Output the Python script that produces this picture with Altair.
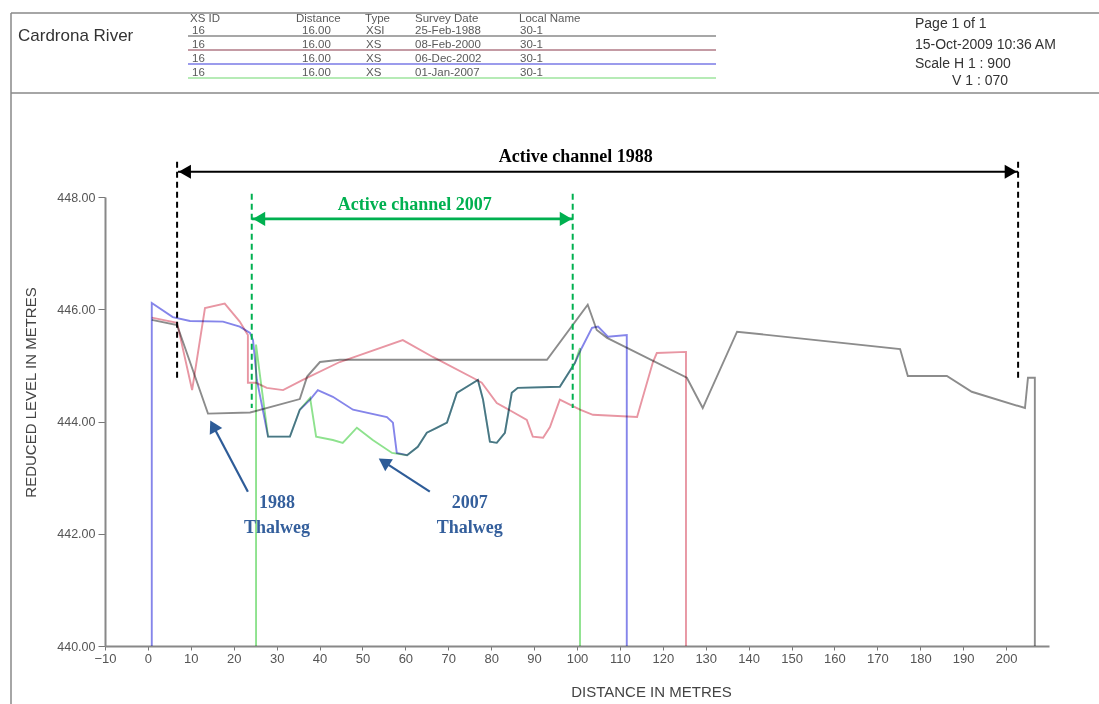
import altair as alt
import pandas as pd

# ---------------- data ----------------
survey_names = ["1988", "2000", "2002", "2007"]
survey_colors = ["#8c8c8c", "#e896a3", "#8585ea", "#8ee28e"]

dist_1988 = [0.9, 6.8, 14.0, 23.8, 35.4, 37.1, 40.1, 44.7, 93.0, 102.5, 104.6, 107.0, 125.6, 129.3,
             137.3, 175.3, 177.1, 186.2, 192.0, 204.4, 205.1, 206.7, 206.7]
level_1988 = [445.81, 445.72, 444.14, 444.16, 444.40, 444.80, 445.06, 445.10, 445.10, 446.08, 445.63,
              445.49, 444.78, 444.24, 445.60, 445.29, 444.81, 444.81, 444.53, 444.24, 444.78, 444.78, 440.00]

dist_2000 = [0.9, 6.8, 10.3, 13.3, 17.9, 21.4, 23.3, 23.3, 25.2, 27.7, 31.5, 36.1, 44.7, 48.2, 59.4,
             66.4, 76.7, 77.8, 81.3, 88.3, 89.7, 92.1, 93.7, 96.0, 100.7, 103.7, 114.0, 117.7, 118.6,
             125.4, 125.4]
level_2000 = [445.85, 445.76, 444.56, 446.02, 446.10, 445.78, 445.54, 444.69, 444.69, 444.60, 444.56,
              444.74, 445.06, 445.15, 445.45, 445.15, 444.74, 444.69, 444.33, 444.03, 443.73, 443.71,
              443.90, 444.39, 444.21, 444.12, 444.08, 445.06, 445.22, 445.24, 440.00]

dist_2002 = [0.9, 0.9, 5.8, 9.8, 17.5, 21.4, 23.8, 24.5, 25.4, 28.0, 33.1, 35.4, 37.8, 39.6, 43.1,
             47.8, 55.7, 57.1, 58.0, 60.4, 62.9, 65.0, 67.4, 69.7, 72.0, 75.0, 76.9, 78.1, 79.7, 81.3,
             83.2, 84.8, 86.2, 96.0, 99.5, 101.1, 103.5, 104.9, 107.2, 111.6, 111.6]
level_2002 = [440.00, 446.11, 445.86, 445.79, 445.78, 445.69, 445.58, 445.45, 444.74, 443.73, 443.73,
              444.21, 444.39, 444.56, 444.44, 444.21, 444.08, 443.98, 443.44, 443.40, 443.55, 443.80,
              443.89, 443.98, 444.51, 444.65, 444.74, 444.39, 443.64, 443.62, 443.80, 444.51, 444.60,
              444.62, 445.04, 445.31, 445.67, 445.69, 445.51, 445.54, 440.00]

dist_2007 = [25.2, 25.2, 26.1, 28.0, 33.1, 35.4, 37.8, 39.2, 43.1, 45.4, 48.7, 52.4, 56.9, 60.4, 62.9,
             65.0, 67.4, 69.7, 72.0, 75.0, 76.9, 78.1, 79.7, 81.3, 83.2, 84.8, 86.2, 96.0, 99.5, 100.7,
             100.7]
level_2007 = [440.00, 445.37, 444.83, 443.73, 443.73, 444.21, 444.42, 443.73, 443.67, 443.62, 443.89,
              443.67, 443.44, 443.40, 443.55, 443.80, 443.89, 443.98, 444.51, 444.65, 444.74, 444.39,
              443.64, 443.62, 443.80, 444.51, 444.60, 444.62, 445.04, 445.31, 440.00]

x_ticks = list(range(-10, 201, 10))
y_ticks = [440, 442, 444, 446, 448]

# header texts
river_name = "Cardrona River"
table_headers = ["XS ID", "Distance", "Type", "Survey Date", "Local Name"]
row_xs_id = ["16", "16", "16", "16"]
row_distance = ["16.00", "16.00", "16.00", "16.00"]
row_type = ["XSI", "XS", "XS", "XS"]
row_date = ["25-Feb-1988", "08-Feb-2000", "06-Dec-2002", "01-Jan-2007"]
row_local = ["30-1", "30-1", "30-1", "30-1"]
row_line_colors = ["#8a8a8a", "#b07a86", "#7a7ae6", "#9ee49e"]
page_info = ["Page 1 of 1", "15-Oct-2009 10:36 AM", "Scale H 1 : 900", "V 1 : 070"]

# annotations (in data units)
ann_labels = ["Active channel 1988", "Active channel 2007", "1988", "Thalweg", "2007", "Thalweg"]
ann_dist = [99.7, 62.2, 30.1, 30.1, 75.0, 75.0]
ann_level = [448.72, 447.86, 442.55, 442.10, 442.55, 442.10]
ann_colors = ["#000000", "#00b050", "#345f9c", "#345f9c", "#345f9c", "#345f9c"]

# ---------------- layout ----------------
W, H = 944, 449
OX, OY = 105, 197  # plot origin on page

SANS = "Liberation Sans"
SERIF = "Liberation Serif"

# ---------------- build tables ----------------
frames = []
for name, d, v in [("1988", dist_1988, level_1988), ("2000", dist_2000, level_2000),
                   ("2002", dist_2002, level_2002), ("2007", dist_2007, level_2007)]:
    frames.append(pd.DataFrame({"survey": name, "dist": d, "level": v, "i": range(len(d))}))
lines_df = pd.concat(frames, ignore_index=True)

X = alt.X("dist:Q",
          scale=alt.Scale(domain=[-10, 210], nice=False, zero=False),
          axis=alt.Axis(values=x_ticks, format="d", title="DISTANCE IN METRES", grid=False,
                        labelFont=SANS, labelFontSize=13, labelColor="#555555", labelPadding=2,
                        labelFlush=False, labelOverlap=False,
                        tickSize=4, tickColor="#777777", tickWidth=1,
                        domainColor="#888888", domainWidth=2,
                        titleFont=SANS, titleFontSize=15, titleFontWeight="normal",
                        titleColor="#444444", titleX=546, titleY=45, titleBaseline="middle"))
Y = alt.Y("level:Q",
          scale=alt.Scale(domain=[440, 448], nice=False, zero=False),
          axis=alt.Axis(values=y_ticks, format=".2f", title="REDUCED LEVEL IN METRES", grid=False,
                        labelFont=SANS, labelFontSize=12.5, labelColor="#555555", labelPadding=3,
                        labelFlush=False, labelOverlap=False,
                        tickSize=7, tickColor="#777777",
                        domainColor="#888888", domainWidth=2,
                        titleFont=SANS, titleFontSize=15, titleFontWeight="normal",
                        titleColor="#444444", titleX=-75, titleY=195, titleAngle=270,
                        titleBaseline="middle", titleAlign="center"))

lines = alt.Chart(lines_df).mark_line(strokeWidth=1.9, blend="multiply").encode(
    x=X, y=Y,
    color=alt.Color("survey:N", scale=alt.Scale(domain=survey_names, range=survey_colors), legend=None),
    detail="survey:N",
    order=alt.Order("i:Q"),
)

# dashed boundaries
dash_df = pd.DataFrame({
    "dist": [6.8, 202.8, 24.2, 99.0],
    "level": [448.63, 448.63, 448.06, 448.06],
    "level2": [444.78, 444.78, 444.24, 444.24],
    "col": ["#000000", "#000000", "#00b050", "#00b050"],
})
dashes = alt.Chart(dash_df).mark_rule(strokeDash=[6, 4], strokeWidth=2).encode(
    x=X, y=Y, y2="level2:Q", color=alt.Color("col:N", scale=None))

# horizontal double arrows
arrow_df = pd.DataFrame({
    "dist": [7.0, 24.2], "dist2": [202.8, 99.0], "level": [448.45, 447.61],
    "col": ["#000000", "#00b050"], "w": [2.2, 2.6],
})
arrows = alt.Chart(arrow_df).mark_rule().encode(
    x=X, x2="dist2:Q", y=Y, color=alt.Color("col:N", scale=None),
    strokeWidth=alt.StrokeWidth("w:Q", scale=None))

# thalweg arrows
th_df = pd.DataFrame({
    "dist": [23.3, 65.7], "level": [442.75, 442.75],
    "dist2": [15.2, 55.0], "level2": [443.92, 443.28],
})
th_lines = alt.Chart(th_df).mark_rule(strokeWidth=2.2, color="#2e5c98").encode(
    x=X, y=Y, x2="dist2:Q", y2="level2:Q")

head_df = pd.DataFrame({
    "dist": [8.6, 201.1, 25.9, 97.4, 15.2, 55.0],
    "level": [448.45, 448.45, 447.61, 447.61, 443.92, 443.28],
    "ang": [270, 90, 270, 90, 332, 303],
    "col": ["#000000", "#000000", "#00b050", "#00b050", "#2e5c98", "#2e5c98"],
})
heads = alt.Chart(head_df).mark_point(shape="triangle-up", filled=True, opacity=1, size=200,
                                      strokeWidth=0).encode(
    x=X, y=Y, angle=alt.Angle("ang:Q", scale=None), color=alt.Color("col:N", scale=None))

ann_df = pd.DataFrame({"dist": ann_dist, "level": ann_level, "label": ann_labels, "col": ann_colors})
ann = alt.Chart(ann_df).mark_text(font=SERIF, fontWeight="bold", fontSize=18, baseline="middle",
                                  align="center").encode(
    x=X, y=Y, text="label:N", color=alt.Color("col:N", scale=None))

# ---------------- page header (pixel positions) ----------------
hdr_rows = []
def add(label, x, y, fs=11.5, col="#5a5a5a"):
    hdr_rows.append({"label": label, "px": x - OX, "py": y - OY, "fs": fs, "col": col})

add(river_name, 18, 36, 17, "#333333")
for lab, x in zip(table_headers, [190, 296, 365, 415, 519]):
    add(lab, x, 19)
row_y = [31, 45, 59, 73]
for k in range(4):
    add(row_xs_id[k], 192, row_y[k])
    add(row_distance[k], 302, row_y[k])
    add(row_type[k], 366, row_y[k])
    add(row_date[k], 415, row_y[k])
    add(row_local[k], 520, row_y[k])
for lab, x, y in zip(page_info, [915, 915, 915, 952], [24, 45, 64, 81]):
    add(lab, x, y, 14, "#333333")
hdr_df = pd.DataFrame(hdr_rows)

hdr_text = alt.Chart(hdr_df).mark_text(font=SANS, align="left", baseline="middle").encode(
    x=alt.X("px:Q", scale=None, axis=None), y=alt.Y("py:Q", scale=None, axis=None),
    text="label:N", size=alt.Size("fs:Q", scale=None), color=alt.Color("col:N", scale=None))

rule_rows = []
def hline(x1, x2, y, col="#888888", w=1.5):
    rule_rows.append({"px": x1 - OX, "px2": x2 - OX, "py": y - OY, "py2": y - OY, "col": col, "w": w})
def vline(x, y1, y2, col="#888888", w=1.5):
    rule_rows.append({"px": x - OX, "px2": x - OX, "py": y1 - OY, "py2": y2 - OY, "col": col, "w": w})

hline(11, 1099, 13)
hline(11, 1099, 93)
vline(11, 13, 704)
for k, yy in enumerate([36, 50, 64, 78]):
    hline(188, 716, yy, row_line_colors[k], 1.6)
rule_df = pd.DataFrame(rule_rows)

hdr_rules = alt.Chart(rule_df).mark_rule().encode(
    x=alt.X("px:Q", scale=None, axis=None), x2="px2:Q",
    y=alt.Y("py:Q", scale=None, axis=None), y2="py2:Q",
    color=alt.Color("col:N", scale=None), strokeWidth=alt.StrokeWidth("w:Q", scale=None))

chart = alt.layer(
    lines, dashes, arrows, th_lines, heads, ann, hdr_rules, hdr_text
).properties(
    width=W, height=H,
    padding={"left": OX, "top": OY, "right": 1099 - OX - W, "bottom": 704 - OY - H},
    autosize=alt.AutoSizeParams(type="none"),
    background="white",
).configure_view(stroke=None)

chart.save("out.html", embed_options={"renderer": "svg", "actions": False})
